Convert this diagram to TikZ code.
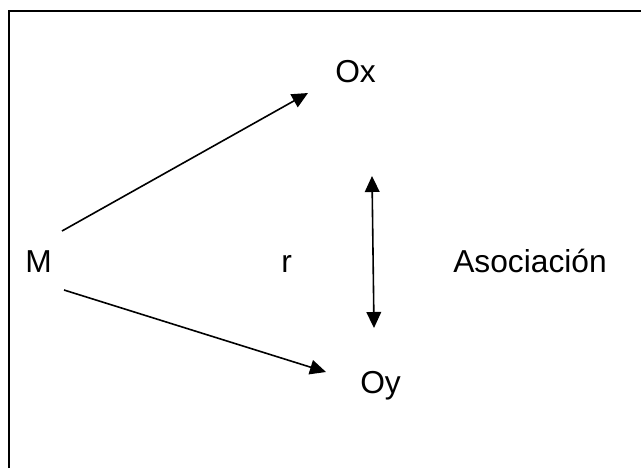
\documentclass[tikz,border=0pt]{standalone}
\usepackage{fontspec}
\setmainfont{Liberation Sans}
\usetikzlibrary{arrows.meta}
\begin{document}
\begin{tikzpicture}[x=0.75pt,y=-0.75pt,
  lbl/.style={inner sep=0pt,font=\fontsize{23.8}{28}\selectfont},
  tip/.style={Triangle[length=12pt,width=11pt]},
  conn/.style={line width=1.2pt,-{Triangle[length=12pt,width=11pt]}},
  frame/.style={line width=1.9pt}]
\useasboundingbox (0,0) rectangle (641,468);
\draw[frame] (8.8,468) -- (8.8,11) -- (641,11);
\node[lbl,anchor=base west] (M) at (25,272) {M};
\node[lbl,anchor=base west] (r) at (281,272) {r};
\node[lbl,anchor=base west] (A) at (453,272) {Asociación};
\node[lbl,anchor=base west] (Ox) at (335,82) {Ox};
\node[lbl,anchor=base west] (Oy) at (360,393) {Oy};
\coordinate (m1) at (62,231);
\coordinate (x1) at (308,93);
\coordinate (m2) at (64,290);
\coordinate (y1) at (326,372);
\coordinate (d1) at (372,176);
\coordinate (d2) at (374,328);
\draw[conn] (m1) -- (x1);
\draw[conn] (m2) -- (y1);
\draw[conn,{Triangle[length=12pt,width=11pt]}-{Triangle[length=12pt,width=11pt]}] (d1) -- (d2);
\end{tikzpicture}
\end{document}
